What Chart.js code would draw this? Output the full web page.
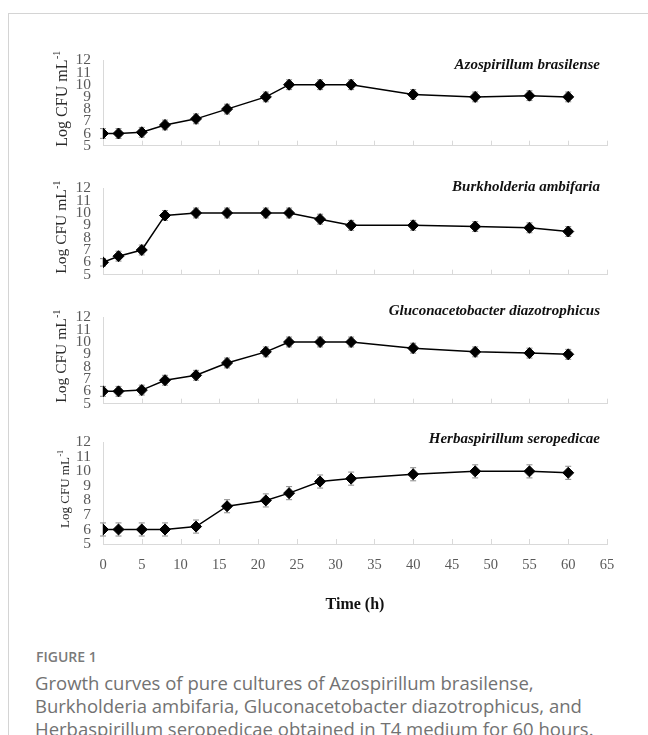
<!DOCTYPE html>
<html>
<head>
<meta charset="utf-8">
<script src="https://cdn.jsdelivr.net/npm/chart.js@4"></script>
<style>
  html, body { margin: 0; padding: 0; background: #fff; }
  body { width: 648px; height: 735px; position: relative; overflow: hidden; }
  .card { position: absolute; left: 8px; top: 13px; width: 660px; height: 740px;
          border-left: 1px solid #d4d4d4; border-top: 1px solid #d4d4d4; }
  .panel { position: absolute; left: 0; }
  .fig-label { position: absolute; left: 36px; top: 648px; font-family: "Open Sans", sans-serif;
               font-size: 14px; font-weight: 600; line-height: 18px; color: #7a7a7a; }
  .fig-caption { position: absolute; left: 35px; top: 671px; font-family: "Open Sans", sans-serif;
                 font-size: 18.5px; font-weight: 400; line-height: 23px; color: #727272; white-space: nowrap; }
</style>
</head>
<body>
<div class="card"></div>
<div id="panels"></div>
<div class="fig-label">FIGURE 1</div>
<div class="fig-caption">Growth curves of pure cultures of Azospirillum brasilense,<br>Burkholderia ambifaria, Gluconacetobacter diazotrophicus, and<br>Herbaspirillum seropedicae obtained in T4 medium for 60 hours.</div>
<script>
// Sampling times (h)
const hours = [0, 2, 5, 8, 12, 16, 21, 24, 28, 32, 40, 48, 55, 60];

// Mean log CFU per mL for each strain
const azospirillum      = [6.0, 6.0, 6.1, 6.7, 7.2, 8.0, 9.0, 10.0, 10.0, 10.0, 9.2, 9.0, 9.1, 9.0];
const burkholderia      = [6.0, 6.5, 7.0, 9.8, 10.0, 10.0, 10.0, 10.0, 9.5, 9.0, 9.0, 8.9, 8.8, 8.5];
const gluconacetobacter = [6.0, 6.0, 6.1, 6.9, 7.3, 8.3, 9.2, 10.0, 10.0, 10.0, 9.5, 9.2, 9.1, 9.0];
const herbaspirillum    = [6.0, 6.0, 6.0, 6.0, 6.2, 7.6, 8.0, 8.5, 9.3, 9.5, 9.8, 10.0, 10.0, 9.9];

// Standard deviations (error bars)
const azospirillumSd      = [0.4, 0.4, 0.4, 0.4, 0.4, 0.4, 0.4, 0.4, 0.4, 0.4, 0.4, 0.4, 0.4, 0.4];
const burkholderiaSd      = [0.3, 0.4, 0.4, 0.4, 0.4, 0.4, 0.4, 0.4, 0.4, 0.4, 0.4, 0.4, 0.4, 0.4];
const gluconacetobacterSd = [0.4, 0.4, 0.4, 0.4, 0.4, 0.4, 0.4, 0.4, 0.4, 0.4, 0.4, 0.4, 0.4, 0.4];
const herbaspirillumSd    = [0.45, 0.45, 0.45, 0.45, 0.45, 0.45, 0.45, 0.45, 0.45, 0.45, 0.45, 0.45, 0.45, 0.45];

// Axis ticks
const yTickValues = [5, 6, 7, 8, 9, 10, 11, 12];
const xTickValues = [0, 5, 10, 15, 20, 25, 30, 35, 40, 45, 50, 55, 60, 65];

const strainNames = ['Azospirillum brasilense', 'Burkholderia ambifaria',
                     'Gluconacetobacter diazotrophicus', 'Herbaspirillum seropedicae'];
const strainValues = [azospirillum, burkholderia, gluconacetobacter, herbaspirillum];
const strainSd = [azospirillumSd, burkholderiaSd, gluconacetobacterSd, herbaspirillumSd];

// Panel frame geometry (plot top / bottom in page pixels)
const frames = [
  { top: 55,  bottom: 157, titleDy: 5,  yTitleSize: 16 },
  { top: 183, bottom: 286, titleDy: -1, yTitleSize: 15.5 },
  { top: 312, bottom: 415, titleDy: -6, yTitleSize: 15.5 },
  { top: 437, bottom: 544, titleDy: -3, yTitleSize: 13 }
];

const SERIF = "'Liberation Serif', 'Times New Roman', serif";
const AXIS_GREY = '#d9d9d9';
const PAD_TOP = 16;
const PLOT_LEFT = 103;
const PLOT_RIGHT = 607;
const PAGE_W = 648;

// Error bars, inner tick marks, panel title and rotated y title
const panelDecor = {
  id: 'panelDecor',
  beforeDatasetsDraw(chart, args, opts) {
    const ctx = chart.ctx, xs = chart.scales.x, ys = chart.scales.y;
    const vals = chart.data.datasets[0].data;
    ctx.save();
    ctx.strokeStyle = '#8a8a8a';
    ctx.lineWidth = 1;
    vals.forEach((p, i) => {
      const sd = opts.sd[i];
      const x = xs.getPixelForValue(p.x);
      const y1 = ys.getPixelForValue(p.y + sd);
      const y2 = ys.getPixelForValue(p.y - sd);
      ctx.beginPath();
      ctx.moveTo(x, y1); ctx.lineTo(x, y2);
      ctx.moveTo(x - 3, y1); ctx.lineTo(x + 3, y1);
      ctx.moveTo(x - 3, y2); ctx.lineTo(x + 3, y2);
      ctx.stroke();
    });
    ctx.restore();
  },
  afterDraw(chart, args, opts) {
    const ctx = chart.ctx, xs = chart.scales.x, area = chart.chartArea;
    ctx.save();
    // inner tick marks on the time axis
    ctx.strokeStyle = AXIS_GREY;
    ctx.lineWidth = 1;
    xs.ticks.forEach(t => {
      const x = Math.round(xs.getPixelForValue(t.value)) + 0.5;
      ctx.beginPath();
      ctx.moveTo(x, area.bottom);
      ctx.lineTo(x, area.bottom - 5);
      ctx.stroke();
    });
    // strain name
    ctx.fillStyle = '#111';
    ctx.font = 'italic bold 15px ' + SERIF;
    ctx.textAlign = 'right';
    ctx.textBaseline = 'middle';
    ctx.fillText(opts.title, 600, area.top + opts.titleDy);
    // y-axis title with superscript
    const size = opts.yTitleSize;
    const main = 'Log CFU mL';
    const sup = '-1';
    ctx.font = size + 'px ' + SERIF;
    const wMain = ctx.measureText(main).width;
    ctx.font = (size * 0.62) + 'px ' + SERIF;
    const wSup = ctx.measureText(sup).width;
    const total = wMain + wSup;
    const cx = size === 13 ? 64 : 61;
    const cy = (area.top + area.bottom) / 2 - 4;
    ctx.translate(cx, cy);
    ctx.rotate(-Math.PI / 2);
    ctx.fillStyle = '#2b2b2b';
    ctx.textAlign = 'left';
    ctx.textBaseline = 'alphabetic';
    ctx.font = size + 'px ' + SERIF;
    ctx.fillText(main, -total / 2, size * 0.35);
    ctx.font = (size * 0.62) + 'px ' + SERIF;
    ctx.fillText(sup, -total / 2 + wMain + 0.5, size * 0.35 - size * 0.4);
    ctx.restore();
  }
};

const host = document.getElementById('panels');

frames.forEach((fr, idx) => {
  const isLast = idx === frames.length - 1;
  const xAxisH = isLast ? 70 : 10;
  const h = PAD_TOP + (fr.bottom - fr.top) + xAxisH;
  const wrap = document.createElement('div');
  wrap.className = 'panel';
  wrap.style.top = (fr.top - PAD_TOP) + 'px';
  wrap.style.width = PAGE_W + 'px';
  wrap.style.height = h + 'px';
  const cv = document.createElement('canvas');
  cv.width = PAGE_W;
  cv.height = h;
  wrap.appendChild(cv);
  host.appendChild(wrap);

  const points = hours.map((t, i) => ({ x: t, y: strainValues[idx][i] }));

  new Chart(cv, {
    type: 'line',
    data: {
      datasets: [{
        data: points,
        borderColor: '#000',
        borderWidth: 1.5,
        pointStyle: 'rectRot',
        pointRadius: 5.5,
        pointBackgroundColor: '#000',
        pointBorderColor: '#000',
        pointBorderWidth: 1,
        tension: 0,
        fill: false
      }]
    },
    options: {
      responsive: false,
      animation: false,
      events: [],
      layout: { padding: { top: PAD_TOP, right: PAGE_W - PLOT_RIGHT, left: 0, bottom: 0 } },
      plugins: {
        legend: { display: false },
        tooltip: { enabled: false },
        panelDecor: { title: strainNames[idx], sd: strainSd[idx], titleDy: fr.titleDy, yTitleSize: fr.yTitleSize }
      },
      scales: {
        x: {
          type: 'linear',
          min: 0, max: 65,
          afterBuildTicks: s => { s.ticks = xTickValues.map(v => ({ value: v })); },
          afterFit: s => { s.height = xAxisH; },
          grid: { display: false, drawTicks: false },
          border: { display: true, color: AXIS_GREY, width: 1 },
          ticks: {
            display: isLast,
            autoSkip: false,
            maxRotation: 0,
            padding: 12,
            color: '#595959',
            font: { family: SERIF, size: 14.5 }
          },
          title: {
            display: isLast,
            text: 'Time (h)',
            color: '#111',
            font: { family: SERIF, size: 16, weight: 'bold' },
            padding: { top: 0, bottom: 0 }
          }
        },
        y: {
          min: 5, max: 12,
          afterBuildTicks: s => { s.ticks = yTickValues.map(v => ({ value: v })); },
          afterFit: s => { s.width = PLOT_LEFT; },
          grid: { display: false, drawTicks: false },
          border: { display: true, color: AXIS_GREY, width: 1 },
          ticks: {
            autoSkip: false,
            padding: 12,
            color: '#595959',
            font: { family: SERIF, size: 15.5 }
          }
        }
      }
    },
    plugins: [panelDecor]
  });
});
</script>
</body>
</html>
